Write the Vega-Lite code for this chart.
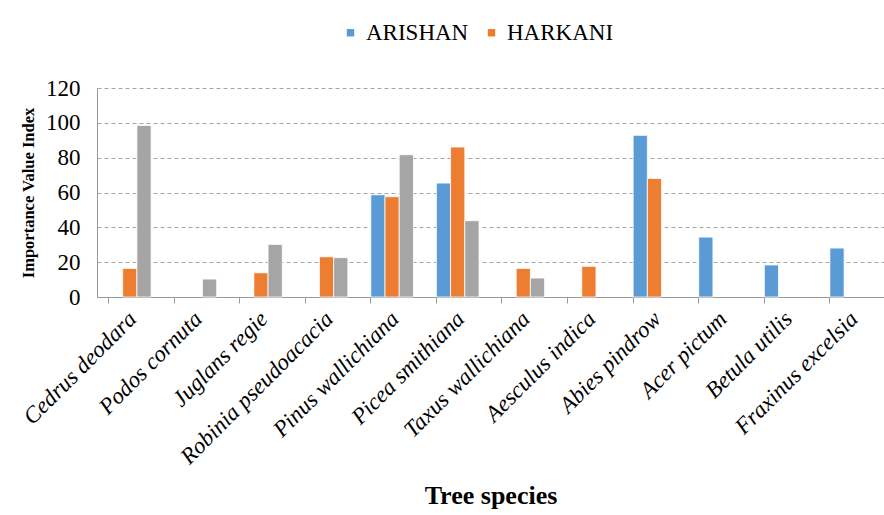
{
  "$schema": "https://vega.github.io/schema/vega-lite/v6.json",
  "width": 787,
  "height": 209,
  "autosize": "none",
  "padding": {"left": 97, "top": 88, "right": 0, "bottom": 218},
  "background": "white",
  "config": {
    "font": "Liberation Serif, Times New Roman, serif",
    "view": {"stroke": null}
  },
  "data": {
    "values": [
      {"species": "Cedrus deodara", "site": "HARKANI", "ivi": 16.4},
      {"species": "Cedrus deodara", "site": "Series3", "ivi": 98.5},
      {"species": "Podos cornuta", "site": "Series3", "ivi": 10.3},
      {"species": "Juglans regie", "site": "HARKANI", "ivi": 13.9},
      {"species": "Juglans regie", "site": "Series3", "ivi": 30.2},
      {"species": "Robinia pseudoacacia", "site": "HARKANI", "ivi": 23.1},
      {"species": "Robinia pseudoacacia", "site": "Series3", "ivi": 22.6},
      {"species": "Pinus wallichiana", "site": "ARISHAN", "ivi": 58.7},
      {"species": "Pinus wallichiana", "site": "HARKANI", "ivi": 57.6},
      {"species": "Pinus wallichiana", "site": "Series3", "ivi": 81.7},
      {"species": "Picea smithiana", "site": "ARISHAN", "ivi": 65.4},
      {"species": "Picea smithiana", "site": "HARKANI", "ivi": 86.1},
      {"species": "Picea smithiana", "site": "Series3", "ivi": 43.8},
      {"species": "Taxus wallichiana", "site": "HARKANI", "ivi": 16.4},
      {"species": "Taxus wallichiana", "site": "Series3", "ivi": 10.9},
      {"species": "Aesculus indica", "site": "HARKANI", "ivi": 17.6},
      {"species": "Abies pindrow", "site": "ARISHAN", "ivi": 92.8},
      {"species": "Abies pindrow", "site": "HARKANI", "ivi": 68.1},
      {"species": "Acer pictum", "site": "ARISHAN", "ivi": 34.4},
      {"species": "Betula utilis", "site": "ARISHAN", "ivi": 18.4},
      {"species": "Fraxinus excelsia", "site": "ARISHAN", "ivi": 28.1}
    ]
  },
  "mark": {"type": "bar", "stroke": "white", "strokeWidth": 0.8},
  "encoding": {
    "x": {
      "field": "species",
      "type": "nominal",
      "sort": ["Cedrus deodara", "Podos cornuta", "Juglans regie", "Robinia pseudoacacia", "Pinus wallichiana", "Picea smithiana", "Taxus wallichiana", "Aesculus indica", "Abies pindrow", "Acer pictum", "Betula utilis", "Fraxinus excelsia"],
      "scale": {"paddingInner": 0.35, "paddingOuter": 0.175},
      "axis": {
        "title": "Tree species",
        "titleFont": "Liberation Serif",
        "titleFontSize": 26,
        "titleFontWeight": "bold",
        "titleColor": "black",
        "titlePadding": 14,
        "labelAngle": -45,
        "labelAlign": "right",
        "labelBaseline": "middle",
        "labelFont": "Liberation Serif",
        "labelFontStyle": "italic",
        "labelFontSize": 23,
        "labelLimit": 0,
        "labelColor": "black",
        "labelPadding": 12,
        "labelOffset": 3,
        "bandPosition": 0,
        "tickSize": 6,
        "tickColor": "#999999",
        "domainColor": "#999999",
        "labelOverlap": false
      }
    },
    "xOffset": {"field": "site", "type": "nominal", "scale": {"domain": ["ARISHAN", "HARKANI", "Series3"], "paddingInner": 0, "paddingOuter": 0}},
    "y": {
      "field": "ivi",
      "type": "quantitative",
      "scale": {"domain": [0, 120], "nice": false},
      "axis": {
        "title": "Importance Value Index",
        "titleFont": "Liberation Serif",
        "titleFontSize": 16.5,
        "titleFontWeight": "bold",
        "titleColor": "black",
        "titlePadding": 9,
        "values": [0, 20, 40, 60, 80, 100, 120],
        "labelFont": "Liberation Serif",
        "labelFontSize": 23,
        "labelColor": "black",
        "labelPadding": 17,
        "ticks": false,
        "domainColor": "#999999",
        "gridColor": "#a6a6a6",
        "gridDash": [4, 3],
        "gridWidth": 1
      }
    },
    "color": {
      "field": "site",
      "type": "nominal",
      "scale": {"domain": ["ARISHAN", "HARKANI", "Series3"], "range": ["#5B9BD5", "#ED7D31", "#A5A5A5"]},
      "legend": {
        "title": null,
        "values": ["ARISHAN", "HARKANI"],
        "orient": "none",
        "direction": "horizontal",
        "legendX": 242,
        "legendY": -67,
        "symbolType": "square",
        "symbolSize": 55,
        "symbolStrokeWidth": 0,
        "labelFont": "Liberation Serif",
        "labelFontSize": 23,
        "labelColor": "black",
        "labelOffset": 4,
        "columnPadding": 11
      }
    }
  }
}
